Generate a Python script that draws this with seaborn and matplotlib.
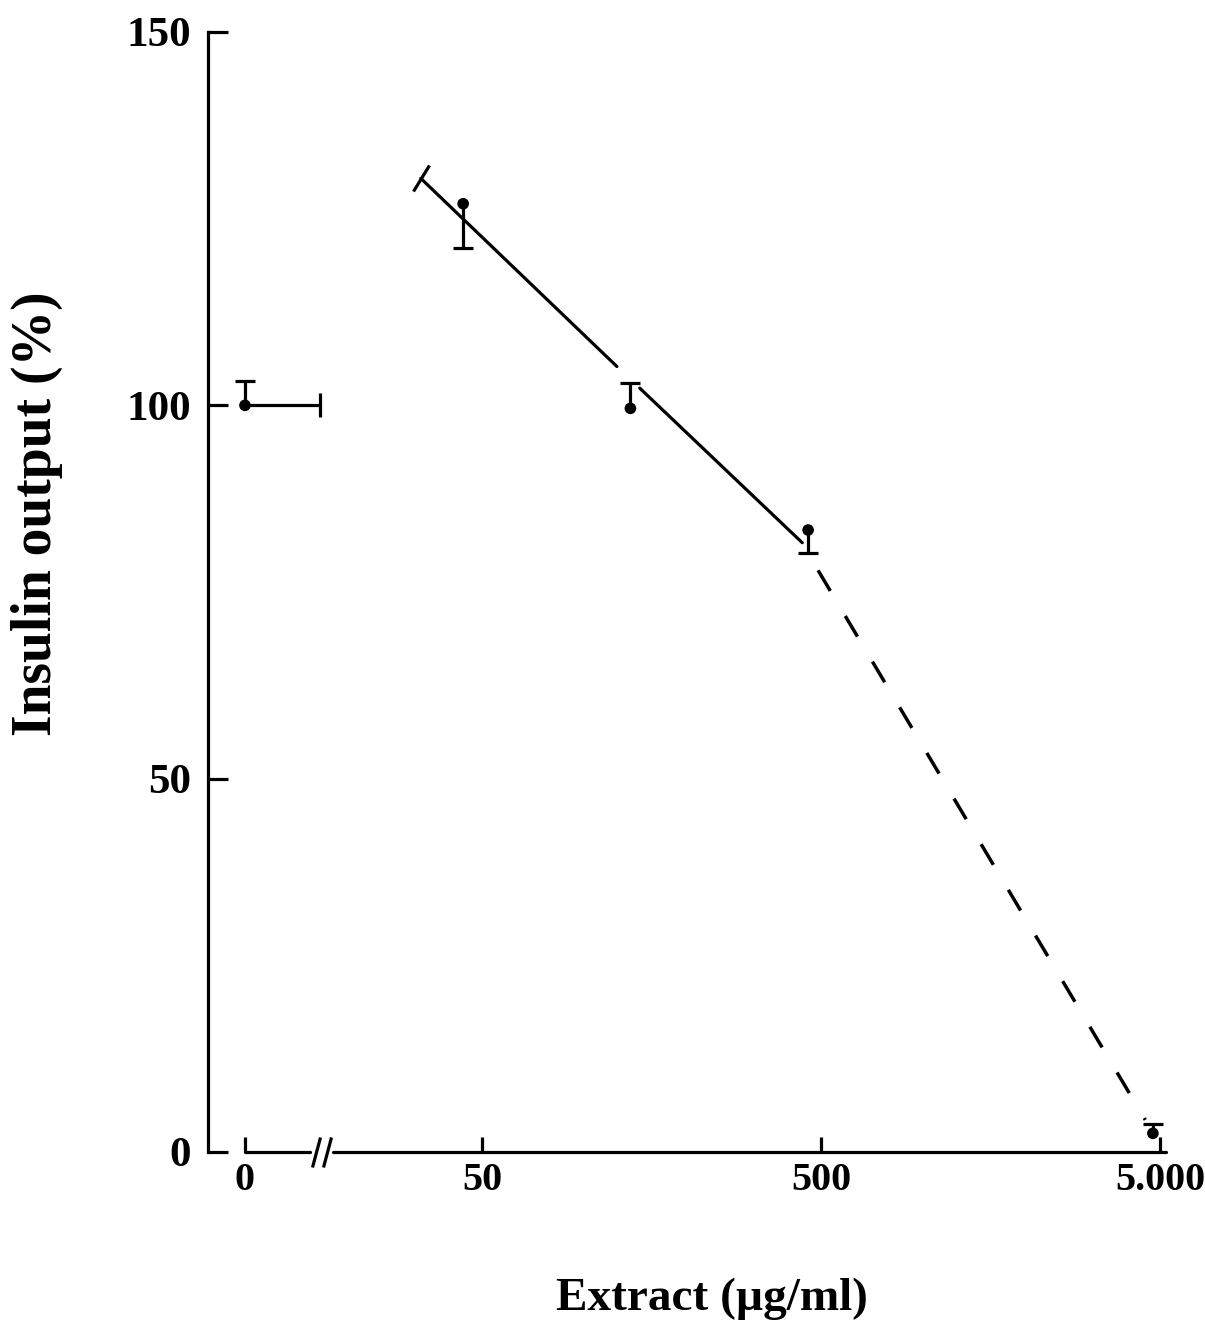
import numpy as np
import pandas as pd
import matplotlib
matplotlib.use("Agg")
import matplotlib.pyplot as plt
from matplotlib.markers import MarkerStyle
from matplotlib.transforms import Affine2D
from matplotlib.ticker import FixedLocator, NullLocator
import seaborn as sns

# ------------------------------------------------------------
# data
# ------------------------------------------------------------
# control (0 ug/ml), drawn at the "0" position of the broken axis
control_pos = 10
control_y = 100
control_err_up = 3.2
control_xerr = 6.7

# extract doses
dose = [44, 137, 458, 4760]
output = [127.0, 99.6, 83.3, 2.5]
err_low = [5.9, 0, 3.1, 0]
err_up = [0, 3.4, 0, 1.2]

# fitted line (solid part with a gap, then dashed extrapolation)
fit_x1 = [33, 125]
fit_y1 = [130.4, 105.2]
fit_x2 = [146, 440]
fit_y2 = [102.3, 81.6]
dash_x = [490, 4520]
dash_y = [77.9, 4.3]

xticks = [10, 50, 500, 5000]
xticklabels = ["0", "50", "500", "5.000"]
yticks = [0, 50, 100, 150]

# axis decoration (broken x axis)
axis_seg1 = [10, 15.6]
axis_seg2 = [18.2, 5200]
break_marks = [16.2, 17.5]

sns.set_theme(style="white")
plt.rcParams["font.family"] = ["Liberation Serif", "DejaVu Serif"]
plt.rcParams["font.weight"] = "bold"

LW = 2.3
df = pd.DataFrame({"dose": dose, "output": output, "lo": err_low, "hi": err_up})
df["end"] = df["output"] - df["lo"] + df["hi"]

fig = plt.figure(figsize=(12.05, 13.31), dpi=100)
ax = fig.add_axes([208 / 1205, (1331 - 1152) / 1331, 982 / 1205, 1120 / 1331])
ax.set_xscale("log")

# fitted lines
sns.lineplot(x=fit_x1, y=fit_y1, color="black", lw=LW, estimator=None, ax=ax)
sns.lineplot(x=fit_x2, y=fit_y2, color="black", lw=LW, estimator=None, ax=ax)
ln = ax.plot(dash_x, dash_y, color="black", lw=2.5)[0]
ln.set_dashes((6.9, 8.4))
# perpendicular cap at the start of the fitted line
ax.plot(fit_x1[:1], fit_y1[:1], ls="none", color="black", ms=22, mew=LW,
        marker=MarkerStyle("|", transform=Affine2D().rotate_deg(-30)))

# one-sided error bars
ax.vlines(df["dose"], df["output"], df["end"], color="black", lw=LW)
ax.plot(df["dose"], df["end"], ls="none", marker="_", ms=15, mew=LW, color="black")

# control point with its bars
ax.vlines([control_pos], [control_y], [control_y + control_err_up], color="black", lw=LW)
ax.plot([control_pos], [control_y + control_err_up], ls="none", marker="_", ms=15,
        mew=LW, color="black")
ax.hlines([control_y], [control_pos], [control_pos + control_xerr], color="black", lw=LW)
ax.plot([control_pos + control_xerr], [control_y], ls="none", marker="|", ms=17,
        mew=LW, color="black")

# points
sns.scatterplot(x=dose + [control_pos], y=output + [control_y], color="black",
                s=70, edgecolor="none", ax=ax, zorder=5, clip_on=False)

# axes
ax.set_xlim(7.78, 6124)
ax.set_ylim(0, 150)
for s in ["top", "right", "bottom"]:
    ax.spines[s].set_visible(False)
ax.spines["left"].set_linewidth(LW)
ax.spines["left"].set_color("black")

ax.plot(axis_seg1, [0, 0], color="black", lw=LW, clip_on=False)
ax.plot(axis_seg2, [0, 0], color="black", lw=LW, clip_on=False)
ax.plot(break_marks, [0, 0], ls="none", color="black", ms=23, mew=LW, clip_on=False,
        marker=MarkerStyle("|", transform=Affine2D().rotate_deg(-14)))

ax.xaxis.set_major_locator(FixedLocator(xticks))
ax.xaxis.set_minor_locator(NullLocator())
ax.set_xticklabels(xticklabels)
ax.set_yticks(yticks)
ax.tick_params(axis="y", direction="in", length=14.5, width=LW, pad=12,
               labelsize=31, color="black", left=True)
ax.tick_params(axis="x", direction="in", length=11, width=LW, pad=7,
               labelsize=29, color="black", bottom=True)
for lab in ax.get_xticklabels() + ax.get_yticklabels():
    lab.set_fontweight("bold")
    lab.set_color("black")

ax.set_xlabel("Extract (µg/ml)", fontsize=34, fontweight="bold", color="black")
ax.set_ylabel("Insulin output (%)", fontsize=40, fontweight="bold", color="black")
ax.xaxis.set_label_coords(0.513, -0.1125)
ax.yaxis.set_label_coords(-0.148, 0.57)
ax.grid(False)

fig.savefig("out.png", dpi=100, facecolor="white")
